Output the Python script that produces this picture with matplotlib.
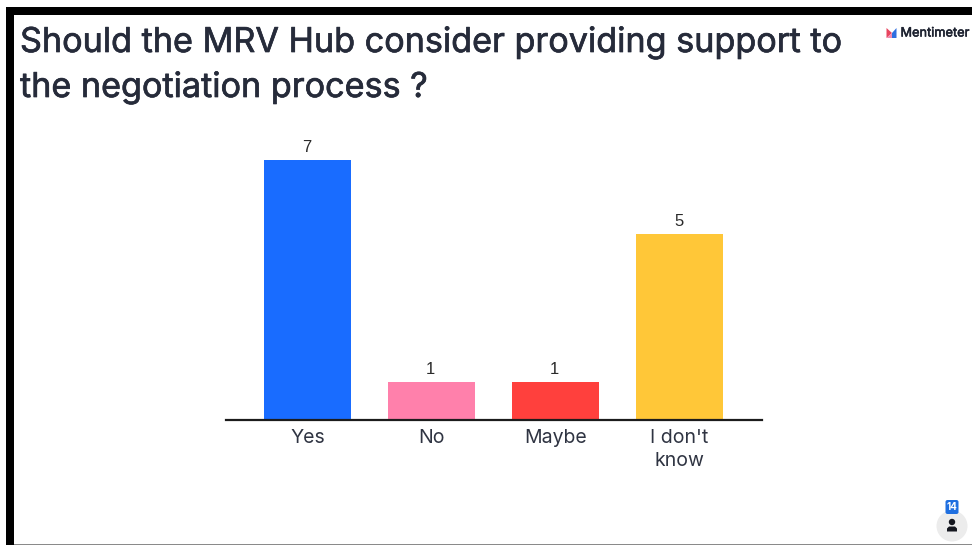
import matplotlib
matplotlib.use("Agg")
import matplotlib.pyplot as plt
from matplotlib.patches import Rectangle, Circle, FancyBboxPatch, Ellipse, Polygon

categories = ["Yes", "No", "Maybe", "I don't\nknow"]
values = [7, 1, 1, 5]
colors = ["#196cff", "#ff80ab", "#ff403d", "#ffc738"]
title_lines = ["Should the MRV Hub consider providing support to", "the negotiation process ?"]
W, H = 972, 545
plt.rcParams['font.family'] = ['Inter', 'Liberation Sans', 'DejaVu Sans']

fig = plt.figure(figsize=(W / 100, H / 100), dpi=100, facecolor="white")

# Overlay in pixel coordinates for the slide frame and decorations
bg = fig.add_axes([0, 0, 1, 1])
bg.set_xlim(0, W)
bg.set_ylim(H, 0)
bg.axis("off")
bg.add_patch(Rectangle((6, 7), W - 6, 7.5, color="black", lw=0))
bg.add_patch(Rectangle((6, 7), 8, H - 7, color="black", lw=0))
bg.add_patch(Rectangle((14, 543.5), W - 14, 1.5, color="#8a8a8a", lw=0))

for line, yy in zip(title_lines, (43, 88)):
    t = bg.text(20, yy, line, fontsize=24.6, color="#262b3a", va="center", ha="left",
                family=['Inter', 'DejaVu Sans'])
    import matplotlib.patheffects as pe
    t.set_path_effects([pe.withStroke(linewidth=0.5, foreground="#262b3a")])

# Mentimeter logo
bg.add_patch(Polygon([(886.5, 38), (886.5, 28), (892, 33)], color="#e8455f", lw=0))
bg.add_patch(Polygon([(892, 38), (892, 33), (896.5, 28), (896.5, 38)], color="#2f6fe0", lw=0))
bg.add_patch(Polygon([(886.5, 38), (892, 33), (892, 38)], color="#f08ab0", lw=0))
m = bg.text(900.5, 33.5, "Mentimeter", fontsize=9.2, color="#1d2230", va="center", ha="left")
m.set_path_effects([pe.withStroke(linewidth=0.4, foreground="#1d2230")])

# Participant badge
bg.add_patch(Circle((952, 526), 15.5, color="#ececec", lw=0))
bg.add_patch(Circle((952, 522), 3.2, color="#15171f", lw=0))
bg.add_patch(Polygon([(947, 531.5), (947, 528.5), (949, 526.5), (955, 526.5), (957, 528.5), (957, 531.5)],
                     color="#15171f", lw=0))
bg.add_patch(FancyBboxPatch((945.5, 500), 13, 14, boxstyle="round,pad=0,rounding_size=2",
                            color="#1f6fe0", lw=0))
bg.text(952, 507.3, "14", fontsize=7, color="white", va="center", ha="center", fontweight="bold")

# Bar chart
left, right, top, base = 226, 762, 130, 419.5
ax = fig.add_axes([left / W, 1 - base / H, (right - left) / W, (base - top) / H], facecolor="none")
x = list(range(len(categories)))
ax.bar(x, values, width=0.7, color=colors, linewidth=0)
ax.set_xlim(-0.657, 3.665)
ax.set_ylim(0, (base - top) / (260 / 7))
for i, v in zip(x, values):
    ax.annotate(str(v), (i, v), xytext=(-0.5, 3.5), textcoords="offset points", ha="center",
                va="bottom", fontsize=12, color="#2a2a2a",
                family=['Liberation Sans', 'DejaVu Sans'])
ax.set_xticks(x)
ax.set_xticklabels(categories, fontsize=14, color="#2f3442", linespacing=1.32,
                   family=['Inter', 'DejaVu Sans'])
ax.tick_params(axis="x", length=0, pad=7)
ax.set_yticks([])
for s in ("top", "left", "right"):
    ax.spines[s].set_visible(False)
ax.spines["bottom"].set_linewidth(1.6)
ax.spines["bottom"].set_color("#1c1c1c")

fig.savefig("out.png", dpi=100, facecolor="white")
